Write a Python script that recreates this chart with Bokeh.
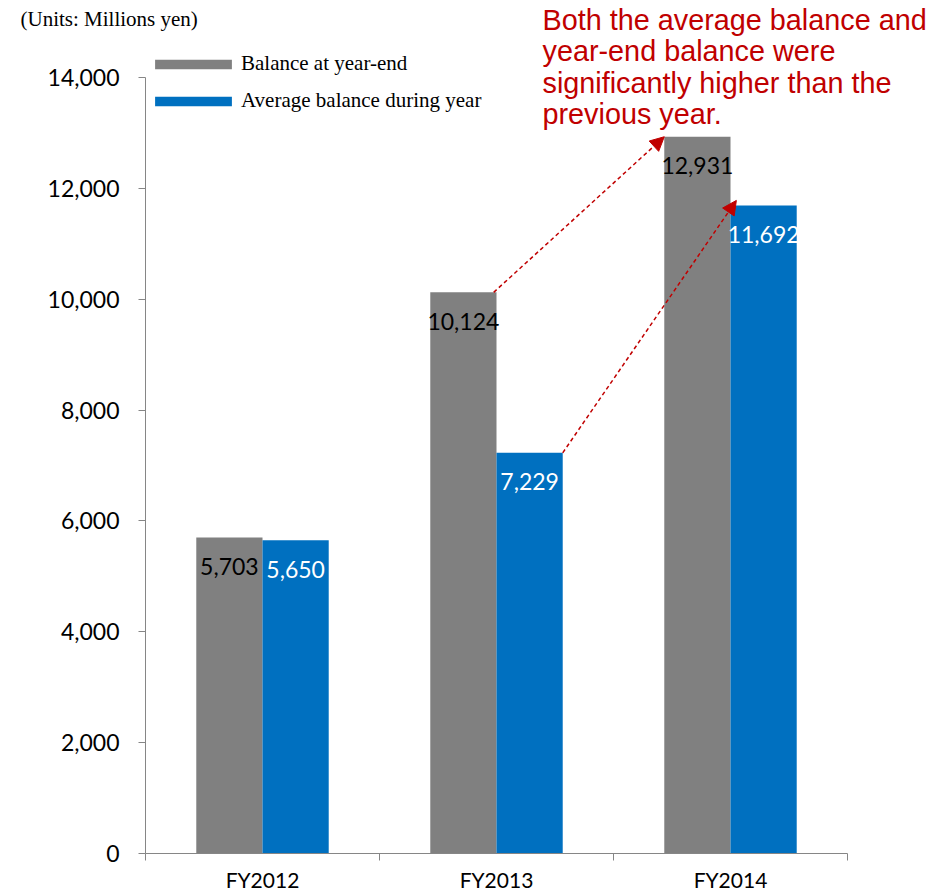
from bokeh.plotting import figure
from bokeh.models import (FixedTicker, NumeralTickFormatter, Legend, LegendItem,
                          Label, Arrow, NormalHead, ColumnDataSource, Range1d,
                          LinearAxis)
from bokeh.core.properties import value
from bokeh.embed import file_html
from bokeh.resources import INLINE

categories = ["FY2012", "FY2013", "FY2014"]
year_end = [5703, 10124, 12931]
average = [5650, 7229, 11692]
series_names = ["Balance at year-end", "Average balance during year"]
y_ticks = [0, 2000, 4000, 6000, 8000, 10000, 12000, 14000]
note_lines = ["Both the average balance and", "year-end balance were",
              "significantly higher than the", "previous year."]
units_text = "(Units: Millions yen)"

GRAY = "#808080"
BLUE = "#0070C0"
RED = "#C00000"
AXIS = "#868686"
W = 0.283

# layout: the frame fills the canvas; the axes sit at fixed locations
CW, CH = 942, 893
AX_L, AX_R, AX_T, AX_B = 145, 847, 77, 853      # axis box in canvas pixels
YMAX = 14000
PXX = (AX_R - AX_L) / 3.0
PXY = (AX_B - AX_T) / YMAX

def px2x(px):
    return (px - AX_L) / PXX

def py2y(py):
    return (AX_B - py) / PXY

centers = [i + 0.5 for i in range(len(categories))]
gray_x = [c - W / 2 for c in centers]
blue_x = [c + W / 2 for c in centers]
fmt = lambda v: f"{v:,}"

p = figure(width=CW, height=CH, output_backend="svg", toolbar_location=None,
           title=None, x_range=Range1d(px2x(0), px2x(CW)),
           y_range=Range1d(py2y(CH), py2y(0)),
           x_axis_location=None, y_axis_location=None,
           min_border=0, min_border_left=0, min_border_right=0,
           min_border_top=0, min_border_bottom=0)
p.outline_line_color = None
p.grid.visible = False

src_g = ColumnDataSource(dict(x=gray_x, top=year_end, lab=[fmt(v) for v in year_end]))
src_b = ColumnDataSource(dict(x=blue_x, top=average, lab=[fmt(v) for v in average]))
rg = p.vbar(x="x", top="top", width=W, source=src_g, fill_color=GRAY, line_color=None)
rb = p.vbar(x="x", top="top", width=W, source=src_b, fill_color=BLUE, line_color=None)

p.text(x="x", y="top", text="lab", source=src_g, text_align="center",
       text_baseline="middle", y_offset=29, text_font=value("Lato"),
       text_font_size="23px", text_color="black")
p.text(x="x", y="top", text="lab", source=src_b, text_align="center",
       text_baseline="middle", y_offset=29, text_font=value("Lato"),
       text_font_size="23px", text_color="white")

# axes
ya = LinearAxis(fixed_location=0, bounds=(0, YMAX))
ya.ticker = FixedTicker(ticks=y_ticks)
ya.formatter = NumeralTickFormatter(format="0,0")
ya.major_label_text_font = "Lato"
ya.major_label_text_font_size = "23px"
ya.major_label_text_color = "black"
ya.axis_line_color = AXIS
ya.major_tick_line_color = AXIS
ya.major_tick_out = 7
ya.major_tick_in = 0
ya.minor_tick_line_color = None
ya.major_label_standoff = 19
p.add_layout(ya, "left")

xa = LinearAxis(fixed_location=0, bounds=(0, 3))
xa.ticker = FixedTicker(ticks=centers, minor_ticks=[0, 1, 2, 3])
xa.major_label_overrides = {c: n for c, n in zip(centers, categories)}
xa.major_label_text_font = "Lato"
xa.major_label_text_font_size = "21px"
xa.major_label_text_color = "black"
xa.axis_line_color = AXIS
xa.major_tick_line_color = None
xa.major_tick_out = 0
xa.major_tick_in = 0
xa.minor_tick_line_color = AXIS
xa.minor_tick_out = 7
xa.minor_tick_in = 0
xa.major_label_standoff = 6
p.add_layout(xa, "below")

# legend
legend = Legend(items=[LegendItem(label=series_names[0], renderers=[rg]),
                       LegendItem(label=series_names[1], renderers=[rb])],
                location=(145, CH - 113), padding=0, margin=0, spacing=12,
                glyph_width=96, glyph_height=12, label_height=20,
                label_standoff=0, border_line_color=None,
                background_fill_alpha=0,
                label_text_font="Liberation Serif", label_text_font_size="21px",
                label_text_color="black")
p.add_layout(legend)

p.add_layout(Label(x=px2x(20), y=py2y(18), text=units_text,
                   text_font="Liberation Serif", text_font_size="21px",
                   text_color="black", text_baseline="alphabetic"))

for i, line in enumerate(note_lines):
    p.add_layout(Label(x=px2x(542), y=py2y(19.5 + 31.3 * i), text=line,
                       text_font="Liberation Sans", text_font_size="28.8px",
                       text_color=RED, text_baseline="alphabetic"))

# arrows
p.add_layout(Arrow(end=NormalHead(size=14, fill_color=RED, line_color=RED),
                   x_start=centers[1] - 0.012, y_start=year_end[1],
                   x_end=gray_x[2] - W / 2, y_end=year_end[2],
                   line_color=RED, line_width=1.5, line_dash="4 3"))
p.add_layout(Arrow(end=NormalHead(size=14, fill_color=RED, line_color=RED),
                   x_start=blue_x[1] + W / 2, y_start=average[1],
                   x_end=centers[2] + 0.025, y_end=average[2] + 90,
                   line_color=RED, line_width=1.5, line_dash="4 3"))

open("out.html", "w").write(file_html(p, INLINE))
